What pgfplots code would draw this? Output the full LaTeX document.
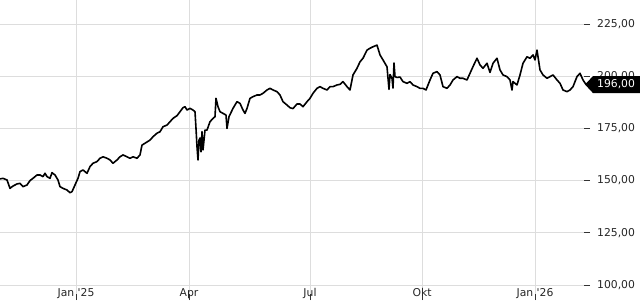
\documentclass[border=0pt]{standalone}
\usepackage{pgfplots}
\pgfplotsset{compat=1.18}
\usepackage{fontspec}
\setmainfont{DejaVu Sans}
\definecolor{gridc}{HTML}{DDDDDD}
\definecolor{tickc}{HTML}{333333}
\begin{document}
\begin{tikzpicture}
\useasboundingbox (0,0) rectangle (640pt,300pt);
\begin{axis}[
  at={(0,0)}, anchor=south west,
  scale only axis, width=590pt, height=300pt,
  xmin=0, xmax=590, ymin=92.816, ymax=236.5,
  axis line style={draw=none},
  clip=false,
  tick align=inside,
  major tick length=6pt,
  tick style={tickc, line width=0.8pt},
  xtick pos=bottom, ytick pos=right, yticklabel pos=right,
  xtick={76,189,310,422,535},
  xticklabels={Jan \textquotesingle25, Apr, Jul, Okt, Jan \textquotesingle26},
  ytick={100,125,150,175,200,225},
  xmajorgrids, ymajorgrids,
  grid style={gridc, line width=0.8pt},
  /pgf/number format/.cd, fixed, fixed zerofill, precision=2, use comma, 1000 sep={}, assume math mode=true,
  /pgfplots/.cd,
  ticklabel style={font=\fontsize{10.8}{13}\selectfont, text=black!85},
  xticklabel style={anchor=base, yshift=4pt, inner sep=0pt},
  yticklabel style={anchor=west, xshift=7pt, inner sep=0pt},
]
\addplot[black, line width=1.6pt, line join=round] coordinates {
(0,150.8)(3,151.1)(7,150.3)(10,146.3)(13,147.4)(17,148.4)(20,148.7)(23,147.1)(27,147.9)
(30,150.0)(33,151.1)(37,152.7)(40,152.7)(43,151.9)(45,153.5)(47,151.9)(50,151.1)(52,153.8)
(55,152.7)(58,150.3)(60,147.1)(63,146.3)(67,145.5)(70,144.2)(72,144.7)(75,147.9)(78,151.1)
(80,154.3)(83,155.1)(87,153.5)(90,156.7)(93,158.3)(97,159.1)(100,160.7)(103,161.4)(107,160.7)
(110,159.9)(113,158.3)(117,159.9)(120,161.4)(123,162.3)(127,161.4)(130,160.7)(133,161.4)
(137,160.7)(140,162.3)(142,167.0)(145,167.9)(150,169.4)(153,171.0)(157,172.7)(160,173.4)
(163,175.8)(167,176.6)(170,178.2)(173,179.8)(177,181.1)(180,183.0)(183,184.9)(185,185.4)
(187,183.8)(190,184.6)(193,183.8)(195,183.0)(196,175.0)(197,166.2)(198,159.9)(199,169.4)
(200,170.4)(201,163.8)(202,173.4)(203,164.7)(205,174.2)(207,174.2)(210,178.2)(213,179.8)
(215,180.6)(216,189.4)(218,185.4)(220,183.0)(223,182.2)(226,181.4)(227,175.0)(229,180.6)
(233,184.6)(237,187.8)(240,187.0)(243,183.8)(245,182.2)(247,184.6)(250,189.4)(253,190.2)
(257,191.0)(260,191.0)(263,191.8)(267,193.4)(270,194.2)(273,193.4)(277,192.6)(280,191.0)
(283,187.8)(287,186.2)(290,184.9)(293,184.5)(297,186.7)(300,186.7)(303,185.4)(307,187.8)
(310,189.4)(313,191.8)(317,194.2)(320,195.0)(323,194.2)(327,193.4)(330,195.0)(333,195.0)
(337,195.8)(340,196.1)(343,197.4)(347,195.0)(350,193.4)(353,200.6)(357,203.8)(360,206.9)
(363,208.6)(367,212.5)(370,213.4)(373,214.1)(377,214.9)(380,210.2)(383,207.8)(387,204.5)
(389,193.7)(390,200.8)(392,199.0)(393,194.3)(394,206.3)(395,199.8)(397,199.4)(400,199.6)
(403,197.4)(407,196.6)(410,197.4)(413,195.8)(417,195.0)(420,194.2)(423,194.2)(426,193.4)
(430,198.2)(433,201.4)(437,202.2)(440,200.6)(443,195.0)(447,194.2)(450,195.8)(453,198.2)
(457,199.8)(460,199.0)(463,199.0)(467,198.2)(470,201.4)(473,204.6)(477,208.6)(480,205.4)
(483,203.8)(487,206.2)(490,201.8)(493,206.2)(497,208.6)(500,203.0)(503,200.6)(507,199.8)
(510,198.2)(512,193.4)(513,197.4)(517,195.8)(520,200.6)(523,206.2)(527,209.3)(530,208.6)
(533,210.2)(535,207.8)(537,212.5)(540,203.0)(543,200.6)(547,199.0)(550,199.8)(553,200.6)
(557,198.2)(560,196.6)(563,193.4)(567,192.6)(570,193.4)(573,195.0)(577,199.8)(580,201.4)
(583,198.2)(586,196.0)
};
\fill[black] (axis cs:585,196) -- ++(8pt,8.5pt) -- ++(47pt,0pt) -- ++(0pt,-17pt) -- ++(-47pt,0pt) -- cycle;
\node[anchor=west, xshift=7pt, inner sep=0pt, text=white, font=\fontsize{10.8}{13}\selectfont] at (axis cs:590,196) {196,00};
\end{axis}
\end{tikzpicture}
\end{document}
